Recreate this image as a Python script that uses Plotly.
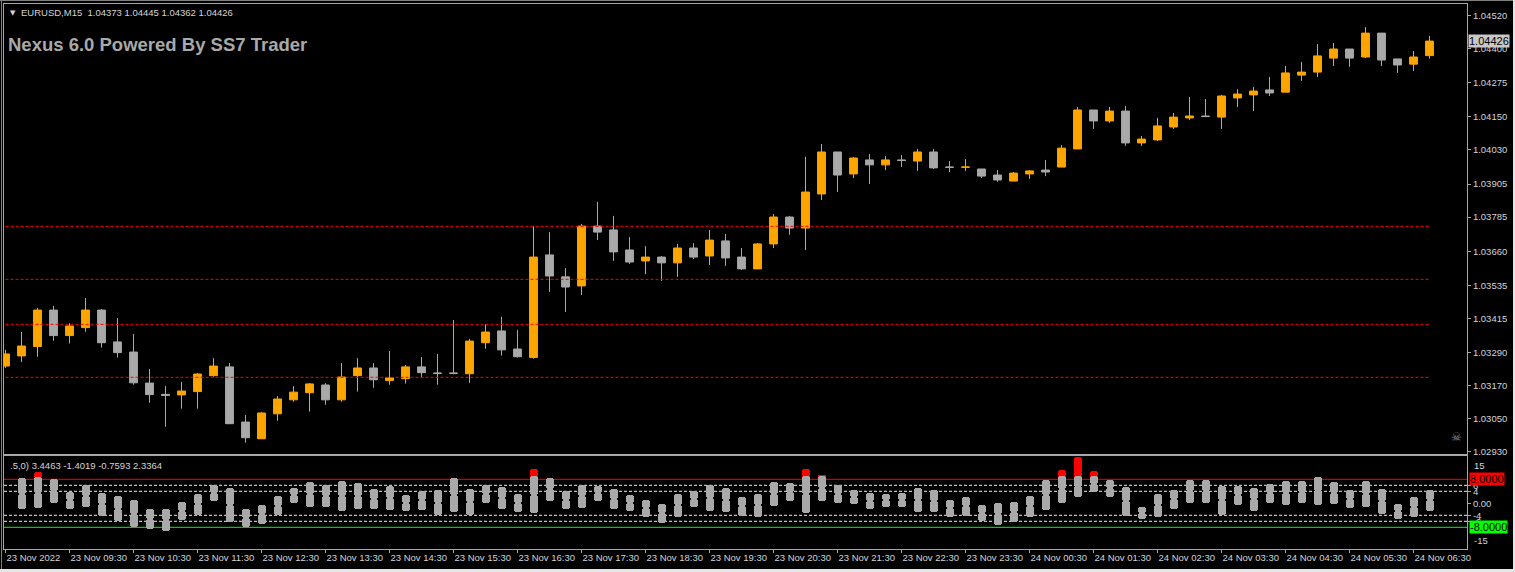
import plotly.graph_objects as go
from plotly.subplots import make_subplots

# ---------------- data ----------------
open_ = [1.03242, 1.03279, 1.03313, 1.03446, 1.03353, 1.03382, 1.03446, 1.03330, 1.03293, 1.03180,
         1.03139, 1.03137, 1.03149, 1.03207, 1.03239, 1.03038, 1.02977, 1.03068, 1.03119, 1.03145,
         1.03173, 1.03119, 1.03207, 1.03235, 1.03189, 1.03196, 1.03239, 1.03217, 1.03217, 1.03214,
         1.03327, 1.03370, 1.03304, 1.03273, 1.03647, 1.03567, 1.03534, 1.03752, 1.03738, 1.03665,
         1.03625, 1.03639, 1.03618, 1.03672, 1.03643, 1.03698, 1.03639, 1.03596, 1.03687, 1.03785,
         1.03745, 1.03869, 1.04022, 1.03942, 1.03993, 1.03975, 1.03993, 1.03989, 1.04022, 1.03967,
         1.03966, 1.03960, 1.03938, 1.03916, 1.03942, 1.03956, 1.03967, 1.04033, 1.04175, 1.04135,
         1.04171, 1.04055, 1.04066, 1.04113, 1.04146, 1.04153, 1.04149, 1.04219, 1.04230, 1.04248,
         1.04240, 1.04302, 1.04313, 1.04364, 1.04397, 1.04368, 1.04455, 1.04361, 1.04342, 1.04373]
high = [1.03301, 1.03366, 1.03454, 1.03461, 1.03398, 1.03490, 1.03450, 1.03417, 1.03359, 1.03231,
        1.03169, 1.03184, 1.03217, 1.03271, 1.03253, 1.03064, 1.03075, 1.03133, 1.03169, 1.03180,
        1.03180, 1.03253, 1.03271, 1.03253, 1.03297, 1.03246, 1.03275, 1.03286, 1.03410, 1.03341,
        1.03395, 1.03421, 1.03373, 1.03752, 1.03730, 1.03599, 1.03760, 1.03840, 1.03789, 1.03712,
        1.03679, 1.03643, 1.03687, 1.03690, 1.03738, 1.03723, 1.03672, 1.03690, 1.03796, 1.03789,
        1.04004, 1.04051, 1.04022, 1.04004, 1.04015, 1.04007, 1.04011, 1.04033, 1.04033, 1.03989,
        1.03996, 1.03960, 1.03956, 1.03949, 1.03956, 1.03993, 1.04047, 1.04186, 1.04175, 1.04186,
        1.04190, 1.04080, 1.04146, 1.04164, 1.04222, 1.04215, 1.04230, 1.04251, 1.04259, 1.04295,
        1.04335, 1.04350, 1.04415, 1.04419, 1.04397, 1.04477, 1.04455, 1.04361, 1.04390, 1.04445]
low = [1.03235, 1.03257, 1.03276, 1.03334, 1.03324, 1.03367, 1.03309, 1.03273, 1.03174, 1.03108,
       1.03021, 1.03087, 1.03087, 1.03203, 1.03032, 1.02963, 1.02977, 1.03043, 1.03112, 1.03076,
       1.03101, 1.03112, 1.03149, 1.03163, 1.03174, 1.03178, 1.03200, 1.03174, 1.03212, 1.03181,
       1.03305, 1.03280, 1.03273, 1.03269, 1.03512, 1.03439, 1.03501, 1.03701, 1.03625, 1.03614,
       1.03577, 1.03552, 1.03567, 1.03632, 1.03610, 1.03607, 1.03592, 1.03596, 1.03672, 1.03720,
       1.03665, 1.03847, 1.03876, 1.03927, 1.03905, 1.03956, 1.03967, 1.03953, 1.03960, 1.03949,
       1.03953, 1.03927, 1.03913, 1.03916, 1.03924, 1.03934, 1.03967, 1.04033, 1.04106, 1.04128,
       1.04044, 1.04044, 1.04062, 1.04106, 1.04138, 1.04149, 1.04106, 1.04186, 1.04171, 1.04226,
       1.04240, 1.04281, 1.04295, 1.04335, 1.04332, 1.04364, 1.04335, 1.04310, 1.04317, 1.04362]
close = [1.03286, 1.03315, 1.03446, 1.03353, 1.03388, 1.03446, 1.03327, 1.03291, 1.03181, 1.03138,
         1.03135, 1.03151, 1.03213, 1.03242, 1.03032, 1.02981, 1.03071, 1.03122, 1.03147, 1.03177,
         1.03119, 1.03202, 1.03235, 1.03192, 1.03199, 1.03239, 1.03218, 1.03215, 1.03215, 1.03333,
         1.03366, 1.03301, 1.03276, 1.03639, 1.03570, 1.03530, 1.03752, 1.03730, 1.03658, 1.03621,
         1.03639, 1.03618, 1.03672, 1.03639, 1.03701, 1.03636, 1.03596, 1.03687, 1.03785, 1.03745,
         1.03876, 1.04022, 1.03938, 1.04000, 1.03975, 1.03993, 1.03991, 1.04022, 1.03964, 1.03966,
         1.03967, 1.03934, 1.03920, 1.03945, 1.03953, 1.03949, 1.04036, 1.04175, 1.04135, 1.04171,
         1.04055, 1.04069, 1.04117, 1.04149, 1.04153, 1.04151, 1.04226, 1.04233, 1.04244, 1.04237,
         1.04310, 1.04313, 1.04372, 1.04397, 1.04364, 1.04455, 1.04357, 1.04339, 1.04368, 1.04426]

# indicator (oscillator) bar ranges
ind_high = [None, 8.3, 8.9, 8.0, 3.9, 6.2, 3.5, 2.4, 1.1, -1.9,
            -1.9, 0.4, 3.2, 6.2, 5.1, -1.9, -0.6, 2.4, 5.1, 7.1,
            6.2, 7.4, 6.8, 4.8, 5.9, 2.8, 4.1, 4.4, 8.4, 4.9,
            6.0, 5.5, 3.2, 9.1, 8.4, 4.0, 6.2, 5.9, 4.8, 2.8,
            1.1, -0.2, 3.2, 4.2, 6.2, 5.1, 2.1, 3.2, 7.1, 6.8,
            9.1, 9.1, 6.2, 4.4, 3.5, 3.2, 3.5, 5.1, 4.4, 1.1,
            2.1, -0.6, 0.1, 0.4, 2.4, 7.8, 9.1, 9.1, 9.1, 7.8,
            5.4, -1.2, 3.1, 4.4, 7.8, 7.8, 5.9, 5.9, 5.1, 6.4,
            7.4, 7.4, 8.8, 7.1, 4.4, 7.4, 4.8, -0.2, 2.1, 4.4]
ind_low = [None, -2.0, -1.7, 0.0, -1.8, -1.1, -4.1, -5.9, -8.0, -8.5,
           -9.1, -5.6, -3.9, 0.9, -6.1, -8.0, -6.8, -3.9, 0.2, -1.1,
           -1.1, -2.6, -1.9, -1.9, -2.2, -2.6, -2.2, -3.9, -2.8, -3.9,
           0.0, -1.8, -2.8, -3.3, 0.9, -1.8, -1.5, 0.9, -1.8, -2.5,
           -4.5, -6.5, -4.5, -1.1, -2.5, -2.8, -4.1, -4.5, -0.8, 0.9,
           -3.1, 0.9, 0.0, -0.1, -1.8, -1.1, -1.1, -2.8, -2.8, -4.5,
           -4.1, -5.8, -7.1, -6.1, -4.5, -2.2, 0.2, 2.2, 3.9, 2.2,
           -4.1, -5.1, -4.5, -1.8, 0.2, 0.2, -3.8, -0.5, -2.5, 0.2,
           -0.5, 0.2, -0.5, -0.1, -1.5, -1.1, -3.5, -5.1, -4.5, -2.5]
ind_red = [None] * 90
for k_, v_ in [(2, 10.3), (33, 11.3), (50, 11.3), (51, 9.5), (66, 11.1), (67, 15.5), (68, 10.8)]:
    ind_red[k_] = v_

price_levels = [1.03751, 1.03558, 1.03394, 1.03201]
osc_solid = [8, -8]
osc_dashed = [6, 4, -4, -6]

price_ticks = [1.04520, 1.04400, 1.04275, 1.04150, 1.04030, 1.03905, 1.03785,
               1.03660, 1.03535, 1.03415, 1.03290, 1.03170, 1.03050, 1.02930]
osc_ticks = [6, 4, 0, -4, -6]
osc_ticktext = ["6", "4", "0.00", "-4", "-6"]
time_tick_labels = ["23 Nov 2022", "23 Nov 09:30", "23 Nov 10:30", "23 Nov 11:30", "23 Nov 12:30",
                    "23 Nov 13:30", "23 Nov 14:30", "23 Nov 15:30", "23 Nov 16:30", "23 Nov 17:30",
                    "23 Nov 18:30", "23 Nov 19:30", "23 Nov 20:30", "23 Nov 21:30", "23 Nov 22:30",
                    "23 Nov 23:30", "24 Nov 00:30", "24 Nov 01:30", "24 Nov 02:30", "24 Nov 03:30",
                    "24 Nov 04:30", "24 Nov 05:30", "24 Nov 06:30"]
bars_per_label = 4

# ---------------- styling ----------------
W, H = 1515, 572
L, R, T, B = 4, 48, 4, 23
BG = "#000000"
UP = "#FFA500"
DN = "#A9A9A9"
FRAME = "#A8A8A8"
TXT = "#D4D4D4"
FONT = "Liberation Sans"

def px(xp):
    return (xp - L) / (W - L - R)

def py(yp):
    return (H - B - yp) / (H - T - B)

idx = list(range(len(open_)))
tick_pos = idx[::bars_per_label][:len(time_tick_labels)]

fig = make_subplots(rows=2, cols=1, shared_xaxes=True)

fig.add_trace(go.Candlestick(
    x=idx, open=open_, high=high, low=low, close=close,
    increasing=dict(line=dict(color=UP, width=1), fillcolor=UP),
    decreasing=dict(line=dict(color=DN, width=1), fillcolor=DN),
    whiskerwidth=0, showlegend=False, hoverinfo="skip"), row=1, col=1)

# price level lines (dashed red)
for lv in price_levels:
    fig.add_trace(go.Scatter(x=[idx[0], idx[-1]], y=[lv, lv], mode="lines",
                             line=dict(color="#FF0000", width=1, dash="3px,2px"),
                             showlegend=False, hoverinfo="skip"), row=1, col=1)

# oscillator bars: red caps first, then grey bars (both ends rounded)
red_base = [h - 0.6 if r is not None else None for h, r in zip(ind_high, ind_red)]
red_len = [(r - b) if r is not None else None for r, b in zip(ind_red, red_base)]
fig.add_trace(go.Bar(x=idx, base=red_base, y=red_len, width=0.5,
                     marker=dict(color="#FF0000", line=dict(width=0)),
                     showlegend=False, hoverinfo="skip"), row=2, col=1)
mid = [None if h is None else (h + l) / 2 for h, l in zip(ind_high, ind_low)]
up_len = [None if h is None else h - m for h, m in zip(ind_high, mid)]
dn_len = [None if l is None else l - m for l, m in zip(ind_low, mid)]
for lens in (up_len, dn_len):
    fig.add_trace(go.Bar(x=idx, base=mid, y=lens, width=0.5,
                         marker=dict(color=DN, line=dict(width=0)),
                         showlegend=False, hoverinfo="skip"), row=2, col=1)

shapes = []
for lv, col in zip(osc_solid, ["#FF0000", "#00FF00"]):
    shapes.append(dict(type="line", xref="x2 domain", yref="y2", x0=0, x1=1, y0=lv, y1=lv,
                       line=dict(color=col, width=1), layer="below"))
for lv in osc_dashed:
    shapes.append(dict(type="line", xref="x2 domain", yref="y2", x0=0, x1=1, y0=lv, y1=lv,
                       line=dict(color="#EEEEEE", width=1, dash="3px,2px"), layer="below"))
# window frame decorations
shapes.append(dict(type="line", xref="paper", yref="paper", x0=px(1.5), x1=px(1.5), y0=py(0), y1=py(569),
                   line=dict(color="#808080", width=1)))
shapes.append(dict(type="line", xref="paper", yref="paper", x0=px(0), x1=px(1513), y0=py(0.5), y1=py(0.5),
                   line=dict(color="#808080", width=1)))
shapes.append(dict(type="rect", xref="paper", yref="paper", x0=px(1513), x1=px(1515), y0=py(0), y1=py(572),
                   fillcolor="#E6E6E6", line=dict(width=0)))
shapes.append(dict(type="rect", xref="paper", yref="paper", x0=px(0), x1=px(1515), y0=py(569), y1=py(572),
                   fillcolor="#E6E6E6", line=dict(width=0)))

small = dict(family=FONT, size=9.5, color=TXT)
boxfont = dict(family=FONT, size=11, color="#000000")
nb = "\u00a0"
header = f"EURUSD,M15{nb}{nb}{open_[-1]:.5f} {high[-1]:.5f} {low[-1]:.5f} {close[-1]:.5f}"
annotations = [
    dict(text="\u25bc", xref="paper", yref="paper", x=px(12.5), y=py(13), xanchor="center", yanchor="middle",
         showarrow=False, font=dict(family="DejaVu Sans", size=7, color=TXT)),
    dict(text=header, xref="paper", yref="paper", x=px(19), y=py(13), xanchor="left", yanchor="middle",
         showarrow=False, font=small),
    dict(text="<b>Nexus 6.0 Powered By SS7 Trader</b>", xref="paper", yref="paper", x=px(6), y=py(45),
         xanchor="left", yanchor="middle", showarrow=False,
         font=dict(family=FONT, size=18.5, color="#A9A9A9")),
    dict(text=".5,0) 3.4463 -1.4019 -0.7593 2.3364", xref="paper", yref="paper", x=px(8), y=py(465),
         xanchor="left", yanchor="middle", showarrow=False, font=small),
    dict(text=f"{close[-1]:.5f}", xref="paper", yref="y", x=1, y=close[-1], xanchor="left", yanchor="middle",
         xshift=1, showarrow=False, bgcolor="#C8C8C8", borderpad=0, font=boxfont),
    dict(text=f"{osc_solid[0]:.4f}", xref="paper", yref="y2", x=1, y=osc_solid[0], xanchor="left",
         yanchor="middle", xshift=2, showarrow=False, bgcolor="#FF0000", borderpad=0, font=boxfont),
    dict(text=f"{osc_solid[1]:.4f}", xref="paper", yref="y2", x=1, y=osc_solid[1], xanchor="left",
         yanchor="middle", xshift=2, showarrow=False, bgcolor="#00FF00", borderpad=0, font=boxfont),
    dict(text="15", xref="paper", yref="y2", x=1, y=15, xanchor="left", yanchor="top", xshift=5,
         showarrow=False, font=small),
    dict(text="-15", xref="paper", yref="y2", x=1, y=-15, xanchor="left", yanchor="bottom", xshift=5,
         showarrow=False, font=small),
    dict(text="\u2620", xref="paper", yref="paper", x=px(1456), y=py(437), xanchor="center", yanchor="middle",
         showarrow=False, font=dict(family="DejaVu Sans", size=12, color="#8A8A8A")),
]

x_range = [(L - 5.5) / 16, (W - R - 5.5) / 16]
fig.update_layout(
    width=W, height=H, margin=dict(l=L, r=R, t=T, b=B, autoexpand=False),
    paper_bgcolor=BG, plot_bgcolor=BG,
    barmode="overlay", barcornerradius=3, bargap=0,
    showlegend=False, shapes=shapes, annotations=annotations,
    font=dict(family=FONT, size=9.5, color=TXT),
    xaxis=dict(range=x_range, showgrid=False, zeroline=False, showticklabels=False, ticks="",
               automargin=False,
               showline=True, mirror=True, linecolor=FRAME, linewidth=1, rangeslider=dict(visible=False)),
    xaxis2=dict(range=x_range, showgrid=False, zeroline=False, tickmode="array", tickvals=tick_pos,
                ticktext=time_tick_labels, ticks="outside", ticklen=3, tickcolor=FRAME, tickangle=0,
                ticklabelposition="outside right", tickfont=small, automargin=False,
                showline=True, mirror=True, linecolor=FRAME, linewidth=1),
    yaxis=dict(domain=[py(454), 1], range=[1.029216, 1.045611], side="right", showgrid=False,
               zeroline=False, tickmode="array", tickvals=price_ticks, automargin=False,
               ticktext=[f"{v:.5f}" for v in price_ticks], ticks="outside", ticklen=3,
               tickcolor=FRAME, tickfont=small, showline=True, mirror=True, linecolor=FRAME, linewidth=1),
    yaxis2=dict(domain=[0, py(456)], range=[-15.23, 15.77], side="right", showgrid=False,
                zeroline=False, tickmode="array", tickvals=osc_ticks, ticktext=osc_ticktext,
                automargin=False,
                ticks="outside", ticklen=3, tickcolor=FRAME, tickfont=small,
                showline=True, mirror=True, linecolor=FRAME, linewidth=1),
)

fig.write_html("out.html", config={"displayModeBar": False},
               post_script="document.body.style.margin='0';document.body.style.background='#000';")
